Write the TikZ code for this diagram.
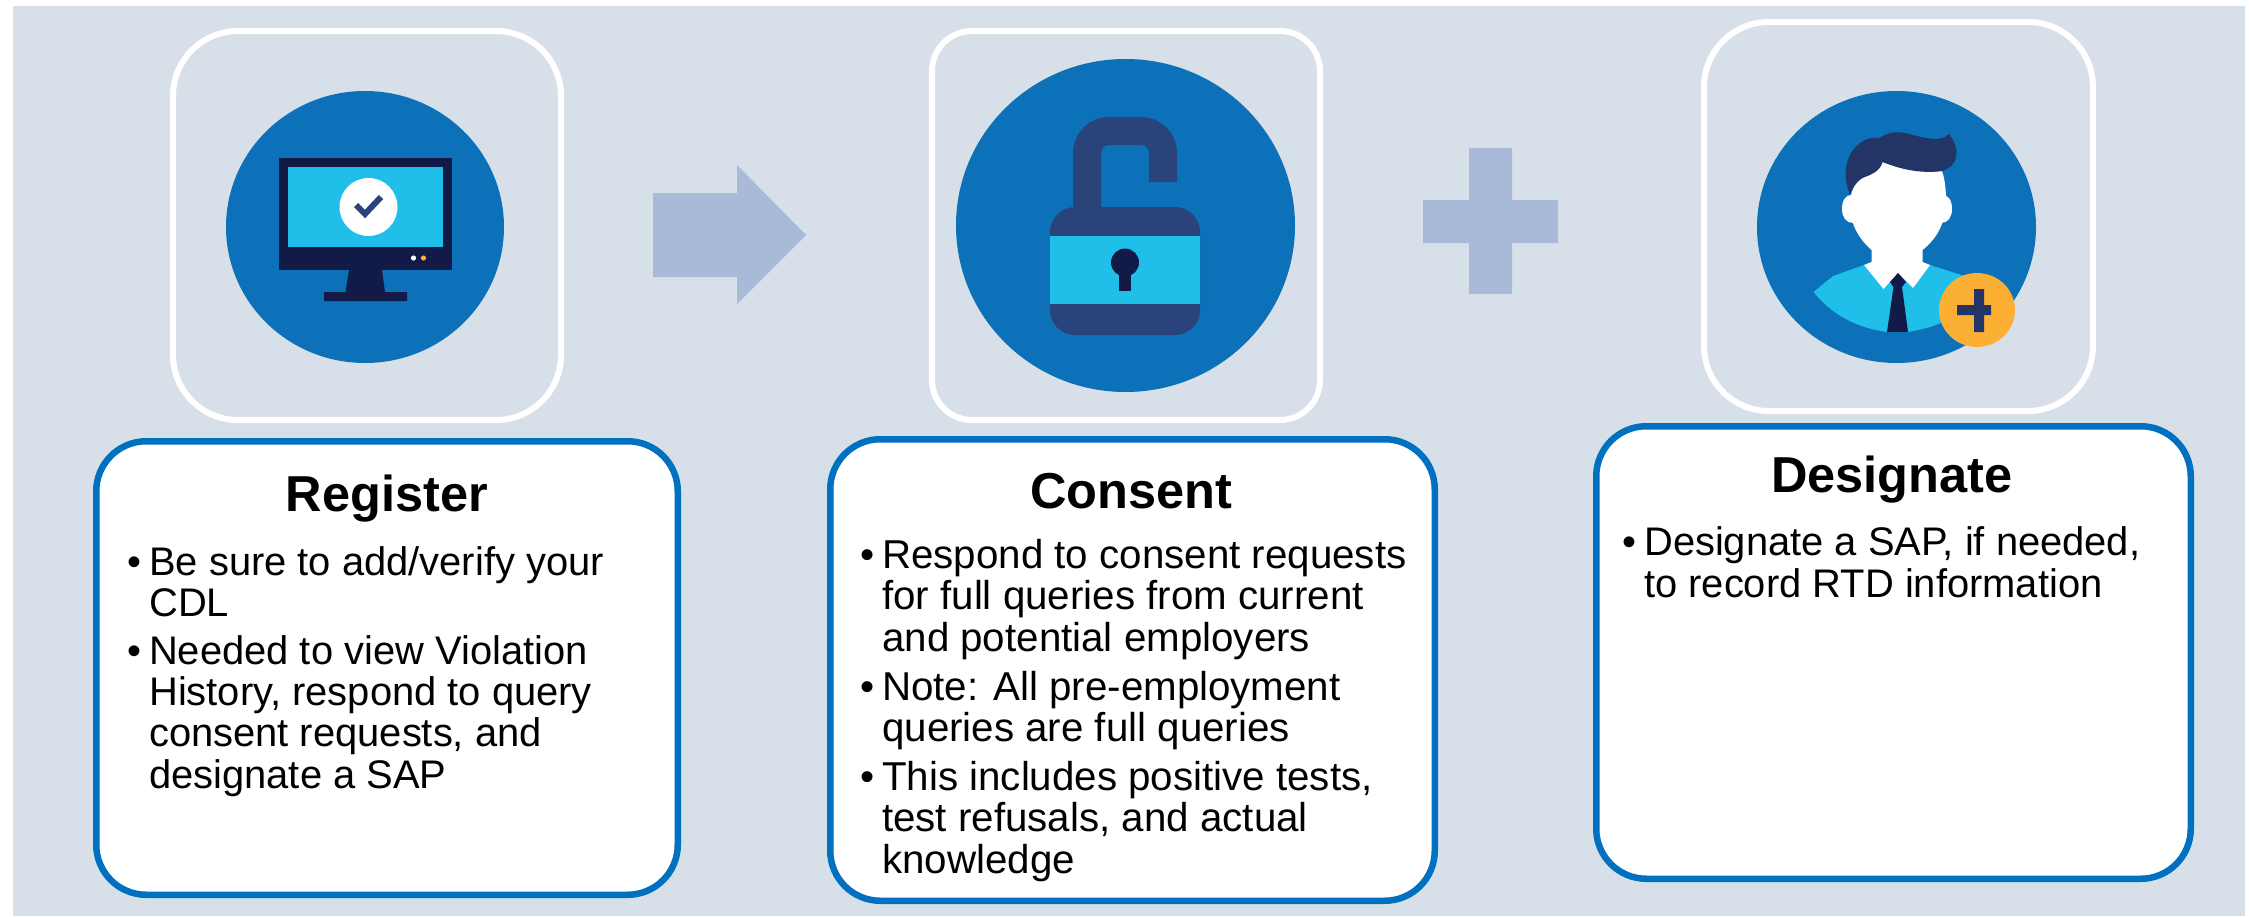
\documentclass[tikz,border=0pt]{standalone}
\usepackage{fontspec}
\setmainfont{Liberation Sans}
\usetikzlibrary{shapes.geometric}
\definecolor{bgc}{HTML}{D7E0E8}
\definecolor{disc}{HTML}{0C71B8}
\definecolor{boxline}{HTML}{0070C0}
\definecolor{cyanc}{HTML}{1FBFEA}
\definecolor{darknavy}{HTML}{121B47}
\definecolor{locknavy}{HTML}{2B437B}
\definecolor{hairnavy}{HTML}{233566}
\definecolor{pale}{HTML}{A9BAD9}
\definecolor{orangec}{HTML}{FBB034}
\newcommand{\bul}{\llap{•\hspace{8pt}}}
\tikzset{
  frame/.style={draw=white,line width=6pt,fill=none,inner sep=0pt,outer sep=0pt},
  panel/.style={draw=boxline,line width=6.5pt,fill=white,inner sep=0pt,outer sep=0pt,rounded corners=50pt},
  disc/.style={ellipse,fill=disc,inner sep=0pt,outer sep=0pt},
  titletext/.style={anchor=base,inner sep=0pt,font=\fontsize{50.5}{50}\selectfont\bfseries},
  bodytext/.style={anchor=base west,inner sep=0pt,align=left,font=\fontsize{39.9}{41.2}\selectfont},
}
\begin{document}
\begin{tikzpicture}[x=1pt,y=-1pt]
\useasboundingbox (0,0) rectangle (2252,916);
\fill[white] (0,0) rectangle (2252,916);
\fill[bgc] (13,6) rectangle (2245,916);

% frames
\node[frame,rounded corners=65pt,minimum width=388pt,minimum height=389pt] (f1) at (367,225.5) {};
\node[frame,rounded corners=40pt,minimum width=388pt,minimum height=389pt] (f2) at (1126,225.5) {};
\node[frame,rounded corners=65pt,minimum width=389pt,minimum height=389pt] (f3) at (1898.5,216.5) {};

% discs
\node[disc,minimum width=278pt,minimum height=272pt] (d1) at (365,227) {};
\node[disc,minimum width=339pt,minimum height=333pt] (d2) at (1125.5,225.5) {};
\node[disc,minimum width=279pt,minimum height=272pt] (d3) at (1896.5,227) {};

% monitor
\fill[darknavy] (279,158) rectangle (452,270);
\fill[darknavy] (349,270) -- (382,270) -- (385,292) -- (407,292) -- (407,301) -- (324,301) -- (324,292) -- (345.5,292) -- cycle;
\fill[cyanc] (288,167) rectangle (443,247);
\fill[white] (368.5,207) circle[radius=29pt];
\draw[locknavy,line width=6pt] (356,205) -- (365,214) -- (381,197);
\fill[white] (413.5,258) circle[radius=2.6pt];
\fill[orangec] (423.5,258) circle[radius=2.6pt];

% arrow
\fill[pale] (653,193) -- (737,193) -- (737,165) -- (806,235) -- (737,304) -- (737,277) -- (653,277) -- cycle;

% lock
\draw[locknavy,line width=28pt,rounded corners=22pt] (1087,215) -- (1087,131) -- (1163,131) -- (1163,182);
\fill[locknavy,rounded corners=25pt] (1050,207) rectangle (1200,335);
\fill[cyanc] (1050,236) rectangle (1200,304);
\fill[darknavy] (1125,262.5) circle[radius=14pt];
\fill[darknavy] (1119,270) rectangle (1131,291);

% plus
\fill[pale] (1469,148) -- (1512,148) -- (1512,200) -- (1558,200) -- (1558,243) -- (1512,243) -- (1512,294) -- (1469,294) -- (1469,243) -- (1423,243) -- (1423,200) -- (1469,200) -- cycle;

% person
\fill[cyanc] (1813.5,292) -- (1833,276) -- (1864,265) -- (1930,265) -- (1964.5,276) -- (1985,300) -- (1943,322)
  .. controls (1932,327) and (1920,330) .. (1908,332) -- (1887,332)
  .. controls (1858,328) and (1833,316) .. (1813.5,292) -- cycle;
\fill[white] (1842,209) .. controls (1842,200) and (1846,195) .. (1851,195) -- (1860,215) -- (1853,223) .. controls (1846,223) and (1842,217) .. (1842,209) -- cycle;
\fill[white] (1952,209) .. controls (1952,200) and (1948,195) .. (1943,195) -- (1935,215) -- (1941,223) .. controls (1948,223) and (1952,217) .. (1952,209) -- cycle;
\fill[white] (1882.5,162) .. controls (1900,168) and (1920,173) .. (1942,171)
  .. controls (1945,180) and (1946,190) .. (1946,200)
  .. controls (1946,225) and (1935,240) .. (1922.5,250) -- (1922.5,262) -- (1930,265) -- (1913,288) -- (1898,273) -- (1883.5,289) -- (1864,265) -- (1871.5,262) -- (1871.5,250)
  .. controls (1860,240) and (1850,225) .. (1850,205)
  .. controls (1850,185) and (1860,178) .. (1870,175) -- cycle;
\fill[darknavy] (1898,273) -- (1906,282) -- (1902,287) -- (1908,332) -- (1887,332) -- (1893.5,287) -- (1890,282) -- cycle;
\fill[hairnavy] (1850,195) .. controls (1844,180) and (1844,165) .. (1851,153)
  .. controls (1857,143) and (1868,136) .. (1879,138)
  .. controls (1887,133) and (1895,131) .. (1905,133)
  .. controls (1918,136) and (1940,144) .. (1949,134)
  .. controls (1955,142) and (1958,150) .. (1956,157)
  .. controls (1955,165) and (1948,169) .. (1942,171)
  .. controls (1920,174) and (1900,169) .. (1882.5,162)
  .. controls (1880,172) and (1870,175) .. (1862,178)
  .. controls (1856,182) and (1852,188) .. (1850,195) -- cycle;
\fill[orangec] (1977,310) ellipse[x radius=38pt,y radius=37pt];
\fill[hairnavy] (1974,289) -- (1984,289) -- (1984,305) -- (1991,305) -- (1991,315) -- (1984,315) -- (1984,332) -- (1974,332) -- (1974,315) -- (1957,315) -- (1957,305) -- (1974,305) -- cycle;

% panels
\node[panel,minimum width=581.5pt,minimum height=453.5pt] (p1) at (387,668) {};
\node[panel,minimum width=604.5pt,minimum height=461.5pt] (p2) at (1132.5,670) {};
\node[panel,minimum width=594.5pt,minimum height=452.5pt] (p3) at (1893.5,652.5) {};

% titles
\node[titletext] (t1) at (387,511) {Register};
\node[titletext] (t2) at (1131,508) {Consent};
\node[titletext] (t3) at (1892,492) {Designate};

% body text
\node[bodytext] (b1) at (149,788) {\bul Be sure to add/verify your\\CDL\\[7pt]\bul Needed to view Violation\\History, respond to query\\consent requests, and\\designate a SAP};
\node[bodytext,font=\fontsize{40.3}{41.2}\selectfont] (b2) at (882,873) {\bul Respond to consent requests\\for full queries from current\\and potential employers\\[8pt]\bul Note: All pre-employment\\queries are full queries\\[8pt]\bul This includes positive tests,\\test refusals, and actual\\knowledge};
\node[bodytext] (b3) at (1644,597) {\bul Designate a SAP, if needed,\\to record RTD information};
\end{tikzpicture}
\end{document}
